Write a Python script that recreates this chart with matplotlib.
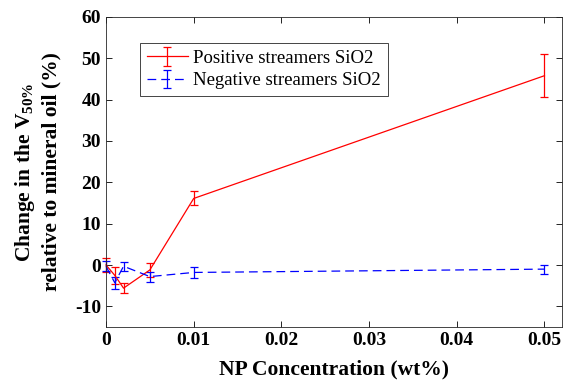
import matplotlib
matplotlib.use("Agg")
import matplotlib.pyplot as plt

conc = [0, 0.001, 0.002, 0.005, 0.01, 0.05]
pos_vals = [0.0, -2.5, -5.6, -1.2, 16.1, 45.8]
pos_err = [1.6, 2.0, 1.2, 1.8, 1.7, 5.2]
neg_vals = [-0.3, -4.3, -0.3, -2.8, -1.8, -1.0]
neg_err = [1.2, 1.5, 1.1, 1.2, 1.3, 1.1]

xticks = [0, 0.01, 0.02, 0.03, 0.04, 0.05]
xticklabels = ["0", "0.01", "0.02", "0.03", "0.04", "0.05"]
yticks = [-10, 0, 10, 20, 30, 40, 50, 60]

plt.rcParams['font.family'] = ['Liberation Serif', 'DejaVu Serif']
plt.rcParams['mathtext.fontset'] = 'custom'
plt.rcParams['mathtext.rm'] = 'Liberation Serif'
plt.rcParams['mathtext.bf'] = 'Liberation Serif:bold'
plt.rcParams['axes.unicode_minus'] = False

fig = plt.figure(figsize=(5.63, 3.82), dpi=100)
ax = fig.add_axes([106/563, 55/382, 456/563, 310/382])

for vals, errs, col, ls, lab in [
        (pos_vals, pos_err, '#ff0000', '-', 'Positive streamers SiO2'),
        (neg_vals, neg_err, '#0000ff', (0, (7, 4)), 'Negative streamers SiO2')]:
    cont = ax.errorbar(conc, vals, yerr=errs, color=col, lw=0.9, ls=ls,
                       elinewidth=0.9, capsize=2.6, capthick=0.9, label=lab)
    for art in cont.get_children():
        art.set_clip_on(False)

ax.set_xlim(0, 0.052)
ax.set_ylim(-15, 60)
ax.set_xticks(xticks)
ax.set_xticklabels(xticklabels)
ax.set_yticks(yticks)
ax.tick_params(direction='in', top=True, right=True, labelsize=14, length=4, width=0.6)
for lab in ax.get_xticklabels() + ax.get_yticklabels():
    lab.set_fontweight('bold')
for sp in ax.spines.values():
    sp.set_linewidth(0.6)
    sp.set_color('#262626')

ax.set_xlabel('NP Concentration (wt%)', fontsize=15.5, fontweight='bold', labelpad=8)
ax.set_ylabel('Change in the V$_{\\mathbf{50\\%}}$\nrelative to mineral oil (%)',
              fontsize=15.5, fontweight='bold', linespacing=1.25, labelpad=10)

leg = ax.legend(loc='upper left', bbox_to_anchor=(0.0746, 0.916), borderaxespad=0,
                fontsize=13.5, fancybox=False, framealpha=1, edgecolor='#262626',
                handlelength=2.2, borderpad=0.35, labelspacing=0.3, handletextpad=0.3)
leg.get_frame().set_linewidth(0.6)

fig.savefig('out.png', dpi=100)
